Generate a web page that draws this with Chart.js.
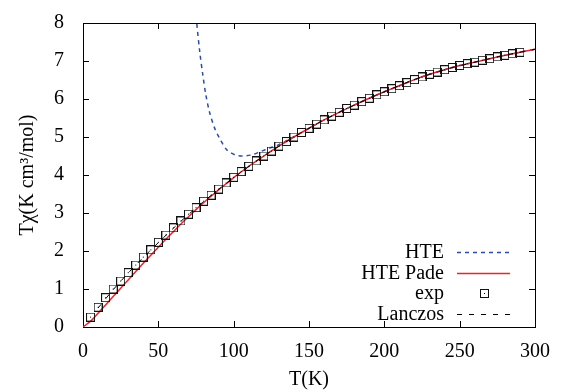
<!DOCTYPE html>
<html>
<head>
<meta charset="utf-8">
<script src="https://cdn.jsdelivr.net/npm/chart.js@4/dist/chart.umd.min.js"></script>
<style>
  body { margin: 0; background: #fff; }
  #wrap { width: 567px; height: 392px; }
</style>
</head>
<body>
<div id="wrap"><canvas id="chart" width="567" height="392"></canvas></div>
<script>
  // Experimental points
  const expT = [5,10,15,20,25,30,35,40,45,50,55,60,65,70,75,80,85,90,95,100,
    105,110,115,120,125,130,135,140,145,150,155,160,165,170,175,180,185,190,195,200,
    205,210,215,220,225,230,235,240,245,250,255,260,265,270,275,280,285,290];
  const expChi = [0.26,0.52,0.77,1.00,1.21,1.43,1.63,1.84,2.03,2.23,2.42,2.61,2.79,2.97,3.14,3.31,3.47,3.63,3.79,3.94,
    4.09,4.23,4.37,4.50,4.63,4.76,4.88,5.00,5.12,5.23,5.34,5.45,5.55,5.65,5.75,5.84,5.93,6.02,6.11,6.19,
    6.27,6.35,6.43,6.51,6.58,6.65,6.71,6.77,6.83,6.88,6.93,6.97,7.02,7.06,7.11,7.15,7.19,7.23];

  // HTE Pade
  const padeT = [0,5,10,15,20,25,30,35,40,45,50,55,60,65,70,75,80,85,90,95,100,110,120,130,140,150,160,170,180,190,200,210,220,230,240,250,260,270,280,290,300];
  const padeChi = [0,0.15,0.36,0.58,0.80,1.02,1.24,1.46,1.68,1.89,2.10,2.31,2.51,2.71,2.90,3.09,3.27,3.44,3.61,3.77,3.93,4.23,4.50,4.76,5.00,5.23,5.45,5.65,5.84,6.02,6.19,6.35,6.51,6.65,6.77,6.88,6.97,7.06,7.15,7.23,7.31];

  // bare HTE (diverges at low T)
  const hteT = [74.5,75.5,77.5,79.5,81.5,84,87.5,91,95.5,101,106,112,118,124,130,140,150,160,170,180,190,200,210,220,230,240,250,260,270,280,290,300];
  const hteChi = [8.6,8.0,7.24,6.64,6.12,5.65,5.22,4.94,4.66,4.53,4.50,4.53,4.62,4.71,4.80,5.01,5.23,5.45,5.65,5.84,6.02,6.19,6.35,6.51,6.65,6.77,6.88,6.97,7.06,7.15,7.23,7.31];

  // Lanczos
  const lanT = [10,20,30,40,50,60,70,80,90,100,120,140,160,180,200,220,240,260,280,300];
  const lanChi = [0.50,0.98,1.42,1.83,2.22,2.60,2.96,3.30,3.62,3.93,4.50,5.00,5.45,5.84,6.19,6.51,6.77,6.97,7.15,7.31];

  const xTicks = [0,50,100,150,200,250,300];
  const yTicks = [0,1,2,3,4,5,6,7,8];

  const font = "'Liberation Serif', 'Times New Roman', serif";
  const pts = (xs, ys) => xs.map((x, i) => ({ x: x, y: ys[i] }));

  // square with a dot in the middle
  const sq = document.createElement("canvas");
  sq.width = 9; sq.height = 9;
  const g = sq.getContext("2d");
  g.strokeStyle = "#111";
  g.lineWidth = 1;
  g.strokeRect(0.5, 0.5, 8, 8);
  g.fillStyle = "#000";
  g.fillRect(4, 4, 1, 1);

  // gnuplot style frame with inward ticks
  const frame = {
    id: "frame",
    beforeDatasetsDraw(chart) {
      const { ctx, chartArea: a, scales } = chart;
      ctx.save();
      ctx.strokeStyle = "#000";
      ctx.lineWidth = 1;
      ctx.beginPath();
      xTicks.forEach(v => {
        const x = Math.round(scales.x.getPixelForValue(v)) + 0.5;
        ctx.moveTo(x, a.bottom); ctx.lineTo(x, a.bottom - 6);
        ctx.moveTo(x, a.top); ctx.lineTo(x, a.top + 6);
      });
      yTicks.forEach(v => {
        const y = Math.round(scales.y.getPixelForValue(v)) + 0.5;
        ctx.moveTo(a.left, y); ctx.lineTo(a.left + 6, y);
        ctx.moveTo(a.right, y); ctx.lineTo(a.right - 6, y);
      });
      ctx.stroke();
      ctx.strokeRect(Math.round(a.left) + 0.5, Math.round(a.top) + 0.5,
        Math.round(a.right - a.left), Math.round(a.bottom - a.top));
      ctx.restore();
    },
    afterDraw(chart) {
      // legend: text on the left, sample on the right
      const { ctx, chartArea: a } = chart;
      const labels = ["HTE", "HTE Pade", "exp", "Lanczos"];
      const textX = a.right - 91, x0 = a.right - 78, x1 = a.right - 25;
      ctx.save();
      ctx.font = "20px " + font;
      ctx.textAlign = "right";
      ctx.textBaseline = "middle";
      labels.forEach((lab, i) => {
        const ds = chart.data.datasets.find(d => d.label === lab);
        const y = a.bottom - 75 + i * 20.5;
        ctx.fillStyle = "#000";
        ctx.fillText(lab, textX, y + 1);
        if (lab === "exp") {
          ctx.drawImage(sq, Math.round((x0 + x1) / 2) - 4, Math.round(y) - 4);
        } else {
          ctx.strokeStyle = ds.borderColor;
          ctx.lineWidth = ds.borderWidth;
          ctx.setLineDash(ds.borderDash || []);
          ctx.beginPath();
          ctx.moveTo(x0, Math.round(y) + 0.5);
          ctx.lineTo(x1, Math.round(y) + 0.5);
          ctx.stroke();
        }
      });
      ctx.restore();
    }
  };

  const ctx = document.getElementById("chart").getContext("2d");
  new Chart(ctx, {
    type: "line",
    data: {
      datasets: [
        {
          label: "HTE",
          data: pts(hteT, hteChi),
          borderColor: "#2a4ea6",
          borderWidth: 1.5,
          borderDash: [4, 4],
          pointRadius: 0,
          tension: 0.3,
          order: 4
        },
        {
          label: "HTE Pade",
          data: pts(padeT, padeChi),
          borderColor: "#e8262a",
          borderWidth: 1.5,
          pointRadius: 0,
          tension: 0.3,
          order: 3
        },
        {
          label: "exp",
          data: pts(expT, expChi),
          showLine: false,
          pointStyle: sq,
          pointRadius: 4,
          order: 2
        },
        {
          label: "Lanczos",
          data: pts(lanT, lanChi),
          borderColor: "#000",
          borderWidth: 1,
          borderDash: [5, 7],
          pointRadius: 0,
          tension: 0.3,
          order: 1
        }
      ]
    },
    options: {
      responsive: false,
      animation: false,
      layout: { padding: { top: 17, right: 32, left: 0, bottom: 0 } },
      plugins: {
        legend: { display: false },
        tooltip: { enabled: false }
      },
      scales: {
        x: {
          type: "linear",
          min: 0,
          max: 300,
          afterFit: s => { s.height = 65; },
          afterBuildTicks: s => { s.ticks = xTicks.map(v => ({ value: v })); },
          grid: { display: false },
          border: { display: false },
          ticks: { color: "#000", padding: 5, maxRotation: 0, font: { family: font, size: 20 } },
          title: { display: true, text: "T(K)", color: "#000", padding: { top: 0, bottom: 0 }, font: { family: font, size: 20 } }
        },
        y: {
          min: 0,
          max: 8,
          afterFit: s => { s.width = 83; },
          afterBuildTicks: s => { s.ticks = yTicks.map(v => ({ value: v })); },
          grid: { display: false },
          border: { display: false },
          ticks: { color: "#000", padding: 11, font: { family: font, size: 20 } },
          title: { display: true, text: "Tχ(K cm³/mol)", color: "#000", padding: { top: 16, bottom: 0 }, font: { family: font, size: 20 } }
        }
      }
    },
    plugins: [frame]
  });
</script>
</body>
</html>
